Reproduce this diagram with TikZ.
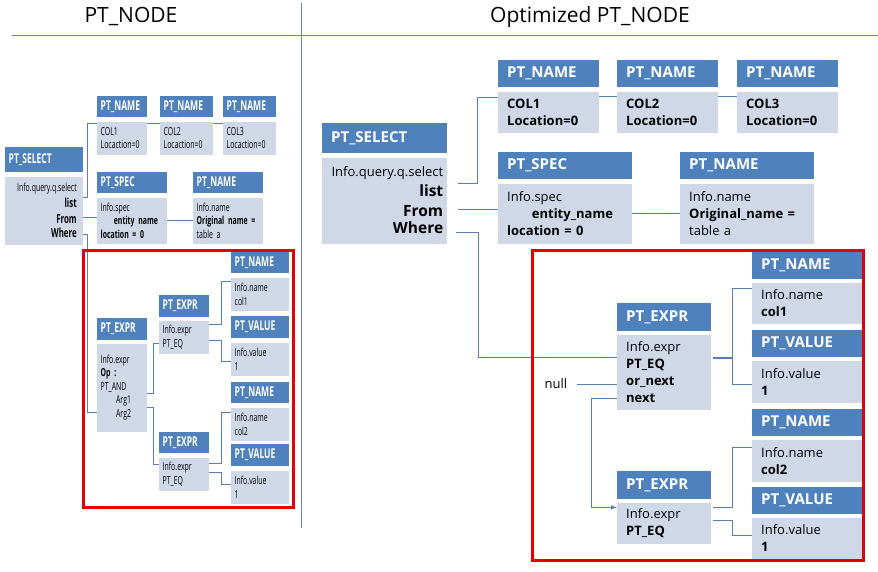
\documentclass[tikz,border=0pt]{standalone}
\usepackage{fontspec}
\setmainfont{Open Sans}
\newfontfamily\narrowfont[FakeStretch=0.63]{Open Sans}
\usepackage{tikz}
\usetikzlibrary{arrows, positioning, calc}
\definecolor{hdcolor}{RGB}{79,129,189}
\definecolor{bdcolor}{RGB}{208,216,232}
\definecolor{lncolor}{RGB}{85,128,182}
\definecolor{redcolor}{RGB}{228,0,0}
\definecolor{sepcolor}{RGB}{105,135,170}

\begin{document}
\begin{tikzpicture}[
    x=1pt, y=-1pt, >=latex,
    rhead/.style={fill=hdcolor, text=white, anchor=north west, inner xsep=9pt, inner ysep=0pt, align=left, font=\fontsize{15}{18}\selectfont\bfseries},
    rbody/.style={fill=bdcolor, inner xsep=9pt, inner ysep=0pt, align=left, font=\fontsize{13}{17}\selectfont},
    rw/.code={\pgfmathsetlengthmacro\boxtw{#1-18}\tikzset{minimum width=#1, text width/.expanded=\boxtw}},
    lhead/.style={fill=hdcolor, text=white, anchor=north west, inner xsep=3.5pt, inner ysep=0pt, align=left, font=\narrowfont\fontsize{13.5}{15}\selectfont\bfseries},
    lbody/.style={fill=bdcolor, inner xsep=3.5pt, inner ysep=0pt, align=left, font=\narrowfont\fontsize{11}{13.5}\selectfont},
    lw/.code={\pgfmathsetlengthmacro\boxtw{#1-7}\tikzset{minimum width=#1, text width/.expanded=\boxtw}},
    ht/.style={minimum height=#1},
    link/.style={draw=lncolor, line width=1pt},
    redframe/.style={draw=redcolor, line width=3pt},
    ttl/.style={font=\fontsize{21}{26}\selectfont}
]
\useasboundingbox (0,0) rectangle (878,572);

\node[ttl] (lttl) at (131,17) {PT\_NODE};
\node[ttl] (rttl) at (590,17) {Optimized PT\_NODE};
\draw[sepcolor, line width=1pt] (12,36) -- (878,36);
\draw[sepcolor, line width=1pt] (301,3) -- (301,528);

\node[lhead, lw=78, ht=25] (lselh) at (5,147) {PT\_SELECT};
\node[lbody, lw=78, ht=68, below=4pt of lselh, align=right, text width=65pt] (lsel) {Info.query.q.select\\ \fontsize{12.5}{16}\selectfont\bfseries list\\ From\\ Where};
\node[lhead, lw=50, ht=21] (ln1h) at (97,96) {PT\_NAME};
\node[lbody, lw=50, ht=33, below=4pt of ln1h] (ln1) {COL1\\ Locaction=0};
\node[lhead, lw=53, ht=21] (ln2h) at (160,96) {PT\_NAME};
\node[lbody, lw=53, ht=33, below=4pt of ln2h] (ln2) {COL2\\ Locaction=0};
\node[lhead, lw=53, ht=21] (ln3h) at (223,96) {PT\_NAME};
\node[lbody, lw=53, ht=33, below=4pt of ln3h] (ln3) {COL3\\ Locaction=0};
\node[lhead, lw=70, ht=21] (lspech) at (97,172) {PT\_SPEC};
\node[lbody, lw=70, ht=46, below=4pt of lspech] (lspec) {Info.spec\\ \hspace*{1.2em}\textbf{entity name}\\ \textbf{location = 0}};
\node[lhead, lw=70, ht=21] (lnmh) at (193,172) {PT\_NAME};
\node[lbody, lw=70, ht=46, below=4pt of lnmh] (lnm) {Info.name\\ \textbf{Original name =}\\ table a};
\node[lhead, lw=50, ht=22] (lxh) at (97,318) {PT\_EXPR};
\node[lbody, lw=50, ht=88, below=3pt of lxh] (lx) {Info.expr\\ \textbf{Op :}\\ PT\_AND\\ \hspace*{1.4em}Arg1\\ \hspace*{1.4em}Arg2};
\node[lhead, lw=50, ht=22] (lx1h) at (159,295) {PT\_EXPR};
\node[lbody, lw=50, ht=33, below=3pt of lx1h] (lx1) {Info.expr\\ PT\_EQ};
\node[lhead, lw=50, ht=21] (lx2h) at (159,432) {PT\_EXPR};
\node[lbody, lw=50, ht=33, below=4pt of lx2h] (lx2) {Info.expr\\ PT\_EQ};
\node[lhead, lw=58, ht=21] (lv1h) at (231,252) {PT\_NAME};
\node[lbody, lw=58, ht=33, below=4pt of lv1h] (lv1) {Info.name\\ col1};
\node[lhead, lw=58, ht=22] (lv2h) at (231,316) {PT\_VALUE};
\node[lbody, lw=58, ht=33, below=4pt of lv2h] (lv2) {Info.value\\ 1};
\node[lhead, lw=58, ht=21] (lv3h) at (231,382) {PT\_NAME};
\node[lbody, lw=58, ht=33, below=4pt of lv3h] (lv3) {Info.name\\ col2};
\node[lhead, lw=58, ht=22] (lv4h) at (231,444) {PT\_VALUE};
\node[lbody, lw=58, ht=33, below=4pt of lv4h] (lv4) {Info.value\\ 1};

\draw[link] ([yshift=-21pt]lsel.north east) -- ++(4,0) |- ([yshift=-2pt]ln1.north west);
\draw[link] ([yshift=-41pt]lsel.north east) -- ([yshift=-20pt]lspec.north west);
\draw[link] ([yshift=-58pt]lsel.north east) -- ++(4,0) |- ([yshift=-69pt]lx.north west);
\draw[link] ([yshift=-2pt]ln1.north east) -- ([yshift=-2pt]ln2.north west);
\draw[link] ([yshift=-2pt]ln2.north east) -- ([yshift=-2pt]ln3.north west);
\draw[link] ([yshift=-23pt]lspec.north east) -- ([yshift=-23pt]lnm.north west);
\draw[link] ([yshift=-50pt]lx.north east) -- ++(6,0) |- ([yshift=-23pt]lx1.north west);
\draw[link] ([yshift=-64pt]lx.north east) -- ++(6,0) |- ([yshift=-7pt]lx2.north west);
\draw[link] ([yshift=-4pt]lx1.north east) -- ++(12,0) |- ([yshift=-4pt]lv1.north west);
\draw[link] ([yshift=-20pt]lx1.north east) -- ++(12,0) |- ([yshift=-19pt]lv2.north west);
\draw[link] ([yshift=-6pt]lx2.north east) -- ++(12,0) |- ([yshift=-5pt]lv3.north west);
\draw[link] ([yshift=-15pt]lx2.north east) -- ++(12,0) |- ([yshift=-14pt]lv4.north west);
\draw[redframe] (83,250) rectangle (293,507);

\node[rhead, rw=125, ht=30] (rselh) at (322,123) {PT\_SELECT};
\node[rbody, rw=125, ht=86, below=4pt of rselh, align=right, inner xsep=4pt, text width=117pt] (rsel) {Info.query.q.select\\ \fontsize{15.5}{20}\selectfont\bfseries list\\ From\\ Where};
\node[rhead, rw=101, ht=27] (rn1h) at (498,60) {PT\_NAME};
\node[rbody, rw=101, ht=41, below=4pt of rn1h] (rn1) {\bfseries COL1\\ Location=0};
\node[rhead, rw=101, ht=27] (rn2h) at (617,60) {PT\_NAME};
\node[rbody, rw=101, ht=41, below=4pt of rn2h] (rn2) {\bfseries COL2\\ Location=0};
\node[rhead, rw=101, ht=27] (rn3h) at (737,60) {PT\_NAME};
\node[rbody, rw=101, ht=41, below=4pt of rn3h] (rn3) {\bfseries COL3\\ Location=0};
\node[rhead, rw=134, ht=27] (rspech) at (498,152) {PT\_SPEC};
\node[rbody, rw=134, ht=60, below=4pt of rspech] (rspec) {Info.spec\\ \hspace*{1.9em}\textbf{entity\_name}\\ \textbf{location = 0}};
\node[rhead, rw=134, ht=27] (rnmh) at (680,152) {PT\_NAME};
\node[rbody, rw=134, ht=60, below=4pt of rnmh] (rnm) {Info.name\\ \textbf{Original\_name =}\\ table a};
\node[rhead, rw=94, ht=28] (rx1h) at (617,303) {PT\_EXPR};
\node[rbody, rw=94, ht=75, below=3pt of rx1h] (rx1) {Info.expr\\ \bfseries PT\_EQ\\ or\_next\\ next};
\node[rhead, rw=94, ht=28] (rx2h) at (617,471) {PT\_EXPR};
\node[rbody, rw=94, ht=41, below=3pt of rx2h] (rx2) {Info.expr\\ \textbf{PT\_EQ}};
\node[rhead, rw=110, ht=27] (rv1h) at (752,252) {PT\_NAME};
\node[rbody, rw=110, ht=41, below=3pt of rv1h] (rv1) {Info.name\\ \textbf{col1}};
\node[rhead, rw=110, ht=27] (rv2h) at (752,330) {PT\_VALUE};
\node[rbody, rw=110, ht=42, below=3pt of rv2h] (rv2) {Info.value\\ \textbf{1}};
\node[rhead, rw=110, ht=27] (rv3h) at (752,409) {PT\_NAME};
\node[rbody, rw=110, ht=42, below=3pt of rv3h] (rv3) {Info.name\\ \textbf{col2}};
\node[rhead, rw=110, ht=27] (rv4h) at (752,487) {PT\_VALUE};
\node[rbody, rw=110, ht=41, below=3pt of rv4h] (rv4) {Info.value\\ \textbf{1}};
\node[font=\fontsize{13}{16}\selectfont] (null) at (556,384) {null};

\draw[link] ([xshift=11pt,yshift=-26pt]rsel.north east) -- ++(19,0) |- ([yshift=-6pt]rn1.north west);
\draw[link] ([xshift=11pt,yshift=-52pt]rsel.north east) -- ([yshift=-26pt]rspec.north west);
\draw[link] ([xshift=9pt,yshift=-75pt]rsel.north east) -- ++(22,0) |- ([yshift=-23pt]rx1.north west);
\draw[link] ([yshift=-5pt]rn1.north east) -- ([yshift=-5pt]rn2.north west);
\draw[link] ([yshift=-5pt]rn2.north east) -- ([yshift=-5pt]rn3.north west);
\draw[link] ([yshift=-30pt]rspec.north east) -- ([yshift=-30pt]rnm.north west);
\draw[link] ([xshift=6pt]null.east) -- (null.east -| rx1.west);
\draw[link, ->] ([yshift=-64pt]rx1.north west) -- ++(-26,0) |- ([yshift=-5pt]rx2.north west);
\draw[link] ([xshift=2pt,yshift=-23pt]rx1.north east) -- ++(19,0) |- ([yshift=-6pt]rv1.north west);
\draw[link] ([xshift=2pt,yshift=-24pt]rx1.north east) -- ++(19,0) |- ([yshift=-24pt]rv2.north west);
\draw[link] ([xshift=2pt,yshift=-5pt]rx2.north east) -- ++(19,0) |- ([yshift=-8pt]rv3.north west);
\draw[link] ([xshift=2pt,yshift=-18pt]rx2.north east) -- ++(19,0) |- ([yshift=-18pt]rv4.north west);
\draw[redframe] (532,250) rectangle (863,560);
\end{tikzpicture}
\end{document}
